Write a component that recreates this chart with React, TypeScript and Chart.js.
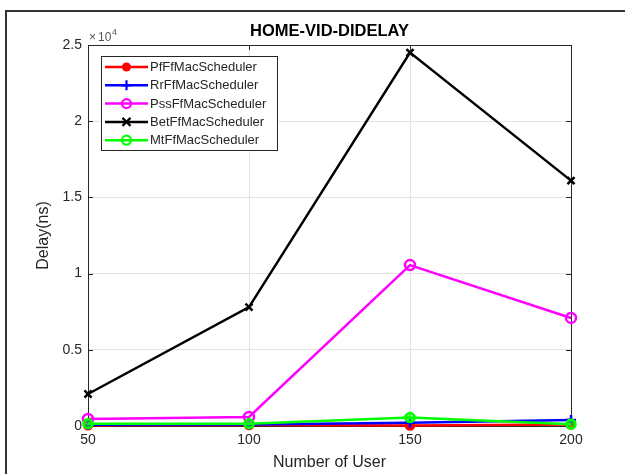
import React, { useEffect, useRef } from "react";
import { Chart, registerables } from "chart.js";

Chart.register(...registerables);

const users = [50, 100, 150, 200];
const pfDelay = [50, 60, 30, 100];
const rrDelay = [80, 100, 220, 400];
const pssDelay = [460, 590, 10560, 7090];
const betDelay = [2100, 7800, 24500, 16100];
const mtDelay = [150, 150, 550, 120];
const yTickValues = [0, 5000, 10000, 15000, 20000, 25000];

const seriesNames = [
  "PfFfMacScheduler",
  "RrFfMacScheduler",
  "PssFfMacScheduler",
  "BetFfMacScheduler",
  "MtFfMacScheduler",
];
const seriesColors = ["#ff0000", "#0000ff", "#ff00ff", "#000000", "#00ff00"];
const seriesMarkers = ["dot", "plus", "circle", "x", "circle"];

const FONT = "'Liberation Sans', Arial, Helvetica, sans-serif";
const TXT = "#262626";

function drawMarker(ctx: CanvasRenderingContext2D, kind: string, x: number, y: number, color: string) {
  ctx.save();
  ctx.strokeStyle = color;
  ctx.fillStyle = color;
  ctx.lineWidth = 2.2;
  ctx.beginPath();
  if (kind === "dot") {
    ctx.arc(x, y, 4.5, 0, Math.PI * 2);
    ctx.fill();
  } else if (kind === "circle") {
    ctx.arc(x, y, 4.5, 0, Math.PI * 2);
    ctx.stroke();
  } else if (kind === "plus") {
    ctx.moveTo(x - 5, y); ctx.lineTo(x + 5, y);
    ctx.moveTo(x, y - 5); ctx.lineTo(x, y + 5);
    ctx.stroke();
  } else if (kind === "x") {
    ctx.moveTo(x - 4, y - 4); ctx.lineTo(x + 4, y + 4);
    ctx.moveTo(x + 4, y - 4); ctx.lineTo(x - 4, y + 4);
    ctx.stroke();
  }
  ctx.restore();
}

const decorPlugin = {
  id: "decor",
  beforeDatasetsDraw(chart: any) {
    const ctx: CanvasRenderingContext2D = chart.ctx;
    const a = chart.chartArea;
    const xs = chart.scales.x;
    const ys = chart.scales.y;
    ctx.save();
    ctx.strokeStyle = TXT;
    ctx.lineWidth = 1;
    ctx.beginPath();
    ctx.moveTo(a.left, a.top + 0.5);
    ctx.lineTo(a.right + 0.5, a.top + 0.5);
    ctx.lineTo(a.right + 0.5, a.bottom);
    ctx.stroke();
    ctx.beginPath();
    for (const v of users) {
      const px = Math.round(xs.getPixelForValue(v)) + 0.5;
      ctx.moveTo(px, a.bottom); ctx.lineTo(px, a.bottom - 5);
      ctx.moveTo(px, a.top); ctx.lineTo(px, a.top + 5);
    }
    for (const v of yTickValues) {
      const py = Math.round(ys.getPixelForValue(v)) + 0.5;
      ctx.moveTo(a.left, py); ctx.lineTo(a.left + 5, py);
      ctx.moveTo(a.right, py); ctx.lineTo(a.right - 5, py);
    }
    ctx.stroke();
    ctx.restore();
  },
  afterDraw(chart: any) {
    const ctx: CanvasRenderingContext2D = chart.ctx;
    const a = chart.chartArea;
    ctx.save();
    ctx.strokeStyle = "#333333";
    ctx.lineWidth = 2;
    ctx.beginPath();
    ctx.moveTo(6, 474);
    ctx.lineTo(6, 11);
    ctx.lineTo(625, 11);
    ctx.stroke();

    ctx.fillStyle = "#000000";
    ctx.font = `bold 16.5px ${FONT}`;
    ctx.textAlign = "center";
    ctx.textBaseline = "middle";
    ctx.fillText("HOME-VID-DIDELAY", (a.left + a.right) / 2, 31);

    ctx.fillStyle = TXT;
    ctx.font = `16px ${FONT}`;
    ctx.fillText("Number of User", (a.left + a.right) / 2, 463);

    ctx.save();
    ctx.translate(44, (a.top + a.bottom) / 2);
    ctx.rotate(-Math.PI / 2);
    ctx.fillText("Delay(ns)", 0, 0);
    ctx.restore();

    ctx.textAlign = "left";
    ctx.textBaseline = "alphabetic";
    ctx.font = `12px ${FONT}`;
    ctx.fillStyle = "#555555";
    ctx.fillText("\u00d7", 89, 41);
    ctx.fillText("10", 98, 41);
    ctx.font = `9px ${FONT}`;
    ctx.fillText("4", 112, 35);

    const lx = 101, ly = 56, lw = 176, lh = 94;
    ctx.fillStyle = "#ffffff";
    ctx.fillRect(lx, ly, lw, lh);
    ctx.strokeStyle = TXT;
    ctx.lineWidth = 1;
    ctx.strokeRect(lx + 0.5, ly + 0.5, lw, lh);
    ctx.font = `13px ${FONT}`;
    ctx.textBaseline = "middle";
    ctx.textAlign = "left";
    for (let i = 0; i < seriesNames.length; i++) {
      const y = 67 + i * 18.3;
      ctx.strokeStyle = seriesColors[i];
      ctx.lineWidth = 2.5;
      ctx.beginPath();
      ctx.moveTo(105, y);
      ctx.lineTo(148, y);
      ctx.stroke();
      drawMarker(ctx, seriesMarkers[i], 126.5, y, seriesColors[i]);
      ctx.fillStyle = TXT;
      ctx.fillText(seriesNames[i], 150, y + 0.5);
    }
    ctx.restore();
  },
};

export default function App() {
  const ref = useRef<HTMLCanvasElement | null>(null);
  useEffect(() => {
    if (!ref.current) return;
    const mk = (i: number, data: number[], style: any, order: number) => ({
      label: seriesNames[i],
      data: users.map((u, k) => ({ x: u, y: data[k] })),
      borderColor: seriesColors[i],
      backgroundColor: seriesColors[i],
      pointBorderColor: seriesColors[i],
      borderWidth: 2.5,
      pointBorderWidth: 2.5,
      tension: 0,
      clip: false,
      order,
      ...style,
    });
    const chart = new Chart(ref.current, {
      type: "line",
      data: {
        datasets: [
          mk(0, pfDelay, { pointStyle: "circle", pointRadius: 4, pointBackgroundColor: "#ff0000" }, 4),
          mk(1, rrDelay, { pointStyle: "cross", pointRadius: 5, pointBackgroundColor: "#0000ff" }, 3),
          mk(2, pssDelay, { pointStyle: "circle", pointRadius: 5, pointBackgroundColor: "rgba(0,0,0,0)" }, 2),
          mk(3, betDelay, { pointStyle: "crossRot", pointRadius: 5, pointBackgroundColor: "#000000" }, 1),
          mk(4, mtDelay, { pointStyle: "circle", pointRadius: 4.5, pointBackgroundColor: "rgba(0,255,0,0.6)" }, 0),
        ],
      },
      options: {
        responsive: false,
        animation: false,
        events: [],
        layout: { padding: { left: 0, top: 45, right: 54, bottom: 0 } },
        plugins: { legend: { display: false }, title: { display: false }, tooltip: { enabled: false } },
        scales: {
          x: {
            type: "linear",
            min: 50,
            max: 200,
            afterFit: (s: any) => { s.height = 48; },
            afterBuildTicks: (s: any) => { s.ticks = users.map((v) => ({ value: v })); },
            ticks: { color: TXT, font: { family: FONT, size: 14 }, padding: 6 },
            grid: { color: "#e4e4e4", drawTicks: false, lineWidth: 1 },
            border: { color: TXT, width: 1 },
          },
          y: {
            type: "linear",
            min: 0,
            max: 25000,
            afterFit: (s: any) => { s.width = 88; },
            afterBuildTicks: (s: any) => { s.ticks = yTickValues.map((v) => ({ value: v })); },
            ticks: {
              color: TXT,
              font: { family: FONT, size: 14 },
              padding: 6,
              callback: (v: any) => String(Number(v) / 10000),
            },
            grid: { color: "#e4e4e4", drawTicks: false, lineWidth: 1 },
            border: { color: TXT, width: 1 },
          },
        },
      },
      plugins: [decorPlugin],
    } as any);
    return () => chart.destroy();
  }, []);
  return (
    <div style={{ position: "absolute", left: 0, top: 0, width: 625, height: 474, background: "#fff" }}>
      <canvas ref={ref} width={625} height={474} style={{ display: "block" }} />
    </div>
  );
}
